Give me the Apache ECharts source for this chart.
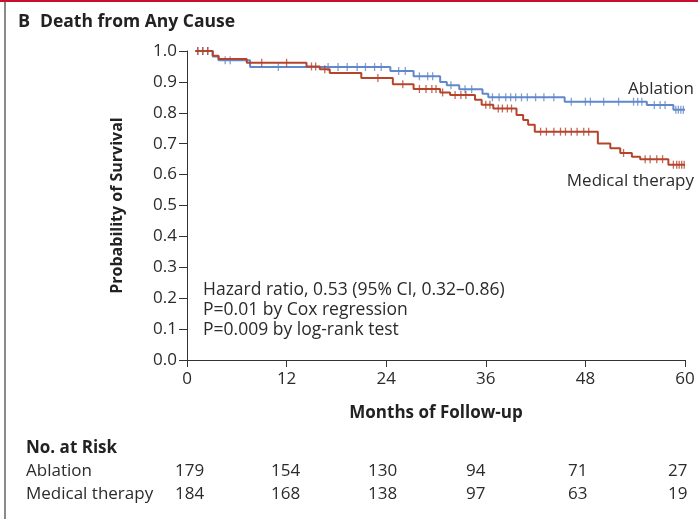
<!DOCTYPE html>
<html>
<head>
<meta charset="utf-8">
<script src="https://cdn.jsdelivr.net/npm/echarts@6/dist/echarts.min.js"></script>
<style>
  html, body { margin: 0; padding: 0; background: #fff; }
  #chart { width: 698px; height: 519px; }
</style>
</head>
<body>
<div id="chart"></div>
<script>
// Kaplan-Meier steps: [month, survival]
var ablationSteps = [
  [1, 1.0], [3.1, 0.982], [3.8, 0.970], [7.6, 0.948], [24.5, 0.935], [27.3, 0.918],
  [30.5, 0.900], [31.3, 0.889], [32.8, 0.876], [35.6, 0.862], [36.3, 0.850],
  [45.5, 0.836], [55.4, 0.825], [58.6, 0.810], [60, 0.810]
];
var medicalSteps = [
  [1, 1.0], [3.1, 0.985], [3.8, 0.974], [7.2, 0.962], [14.4, 0.950], [16, 0.941],
  [17.2, 0.929], [21, 0.913], [24.8, 0.892], [27.3, 0.877], [30.5, 0.866],
  [31.7, 0.858], [34.7, 0.842], [35.5, 0.826], [36.9, 0.814], [39.7, 0.793],
  [40.5, 0.777], [41.1, 0.761], [41.9, 0.739], [49.5, 0.701], [51, 0.685],
  [52.2, 0.670], [53.6, 0.658], [54.6, 0.650], [58, 0.632], [60, 0.632]
];
// censored observations (months)
var ablationCensor = [1.3, 1.9, 2.5, 4.6, 5.2, 11, 17, 18.2, 19.3, 20.5, 21.5, 22.6, 23.4, 25.5,
  26.3, 28, 29, 29.6, 31.8, 33.5, 34.3, 36.8, 37.6, 38.4, 39, 39.6, 40.3, 41, 42, 43, 44.2,
  46.3, 48, 48.6, 50.2, 52, 53.8, 54.3, 54.8, 56.3, 57, 57.6, 58.9, 59.2, 59.5, 59.8];
var medicalCensor = [1.3, 1.9, 2.5, 9, 12, 15, 15.5, 16.6, 23, 26, 28, 28.8, 29.5, 30, 30.8,
  32.3, 33, 33.6, 36, 36.5, 37.5, 38, 38.6, 39.1, 42.6, 43.3, 44.2, 45, 45.6, 46.3, 47, 47.8,
  48.4, 52.6, 55.2, 55.8, 56.6, 57.3, 58.6, 59, 59.3, 59.6, 59.9];
var xTicks = [0, 12, 24, 36, 48, 60];
var riskAblation = [179, 154, 130, 94, 71, 27];
var riskMedical = [184, 168, 138, 97, 63, 19];
var statLines = [
  'Hazard ratio, 0.53 (95% CI, 0.32\u20130.86)',
  'P=0.01 by Cox regression',
  'P=0.009 by log-rank test'
];

var blue = '#6088cb';
var red = '#b5442b';
var FONT = '"Open Sans", "Noto Sans", sans-serif';
var TXT = '#2b2b2b';

function survAt(steps, t) {
  var s = steps[0][1];
  for (var i = 0; i < steps.length; i++) {
    if (steps[i][0] <= t) s = steps[i][1];
  }
  return s;
}
function censorPoints(steps, times) {
  return times.map(function (t) { return [t, survAt(steps, t)]; });
}

var chart = echarts.init(document.getElementById('chart'));

var riskX = [175, 271, 368, 466, 568, 668];
var graphics = [
  { type: 'rect', shape: { x: 0, y: 0, width: 698, height: 2 }, style: { fill: '#c8102e' } },
  { type: 'rect', shape: { x: 4, y: 2, width: 2, height: 517 }, style: { fill: '#8a8a8a' } },
  { type: 'text', left: 18, top: 13, style: { text: 'B', font: 'bold 18px ' + FONT, fill: '#222' } },
  { type: 'text', left: 40, top: 13, style: { text: 'Death from Any Cause', font: 'bold 17.5px ' + FONT, fill: '#222' } },
  { type: 'text', right: 4, top: 81, style: { text: 'Ablation', font: '17px ' + FONT, fill: TXT } },
  { type: 'text', right: 4, top: 173, style: { text: 'Medical therapy', font: '17px ' + FONT, fill: TXT } },
  { type: 'text', left: 26, top: 440, style: { text: 'No. at Risk', font: 'bold 17px ' + FONT, fill: '#222' } },
  { type: 'text', left: 26, top: 463, style: { text: 'Ablation', font: '17px ' + FONT, fill: TXT } },
  { type: 'text', left: 26, top: 486, style: { text: 'Medical therapy', font: '17px ' + FONT, fill: TXT } }
];
statLines.forEach(function (s, i) {
  graphics.push({ type: 'text', left: 203, top: 281 + i * 20, style: { text: s, font: '17.5px ' + FONT, fill: TXT } });
});
riskAblation.forEach(function (v, i) {
  graphics.push({ type: 'text', left: riskX[i], top: 463, style: { text: String(v), font: '17px ' + FONT, fill: TXT } });
});
riskMedical.forEach(function (v, i) {
  graphics.push({ type: 'text', left: riskX[i], top: 486, style: { text: String(v), font: '17px ' + FONT, fill: TXT } });
});

chart.setOption({
  animation: false,
  backgroundColor: '#fff',
  grid: { left: 187, right: 13, top: 51, bottom: 159, containLabel: false },
  xAxis: {
    type: 'value', min: 0, max: 60, interval: 12,
    name: 'Months of Follow-up', nameLocation: 'middle', nameGap: 45,
    nameTextStyle: { fontFamily: FONT, fontSize: 17, fontWeight: 'bold', color: '#222' },
    axisLine: { show: true, lineStyle: { color: '#333', width: 1 } },
    axisTick: { show: true, length: 7, lineStyle: { color: '#333' } },
    axisLabel: { fontFamily: FONT, fontSize: 17, color: TXT, margin: 11 },
    splitLine: { show: false }
  },
  yAxis: {
    type: 'value', min: 0, max: 1, interval: 0.1,
    name: 'Probability of Survival', nameLocation: 'middle', nameGap: 62,
    nameTextStyle: { fontFamily: FONT, fontSize: 16, fontWeight: 'bold', color: '#222' },
    axisLine: { show: true, lineStyle: { color: '#333', width: 1 } },
    axisTick: { show: true, length: 8, lineStyle: { color: '#333' } },
    axisLabel: { fontFamily: FONT, fontSize: 17, color: TXT, margin: 10,
      formatter: function (v) { return v.toFixed(1); } },
    splitLine: { show: false }
  },
  graphic: graphics,
  series: [
    { name: 'Ablation', type: 'line', step: 'end', data: ablationSteps, showSymbol: false,
      lineStyle: { color: blue, width: 2 }, z: 3 },
    { name: 'Medical therapy', type: 'line', step: 'end', data: medicalSteps, showSymbol: false,
      lineStyle: { color: red, width: 2 }, z: 4 },
    { name: 'Ablation censored', type: 'scatter', data: censorPoints(ablationSteps, ablationCensor),
      symbol: 'rect', symbolSize: [1.3, 8], itemStyle: { color: blue }, z: 3 },
    { name: 'Medical censored', type: 'scatter', data: censorPoints(medicalSteps, medicalCensor),
      symbol: 'rect', symbolSize: [1.3, 8], itemStyle: { color: red }, z: 4 }
  ]
});
</script>
</body>
</html>
